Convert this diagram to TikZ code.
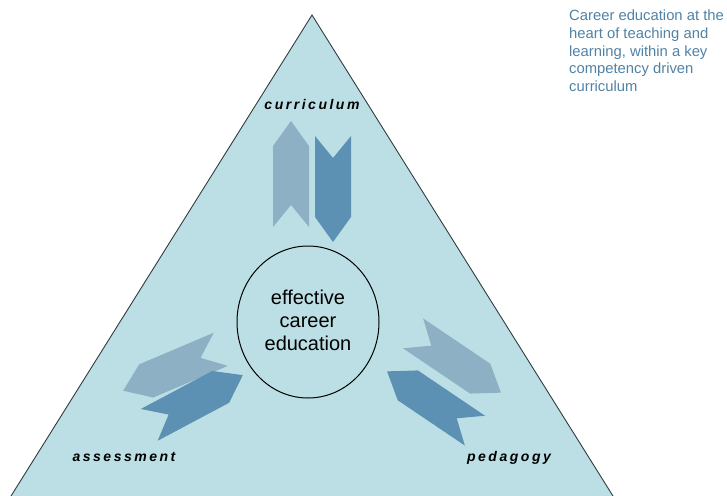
\documentclass[tikz,border=0pt]{standalone}
\usepackage{fontspec}
\setmainfont{Liberation Sans}
\newfontfamily\lblfont[LetterSpace=18]{Liberation Sans}
\definecolor{trifill}{RGB}{187,223,228}
\definecolor{chevlight}{RGB}{141,176,196}
\definecolor{chevdark}{RGB}{92,145,180}
\definecolor{notetext}{RGB}{80,130,165}
\definecolor{edgegray}{RGB}{50,60,62}

% chevron arrow: centre x, centre y, direction (degrees, y downwards), colour
\newcommand\chevron[4]{%
  \fill[#4, shift={(#1,#2)}, rotate={-1*(#3)}]
    (53,0) -- (28,18) -- (-53,18) -- (-31,0) -- (-53,-18) -- (28,-18) -- cycle;}

\begin{document}
\begin{tikzpicture}[x=1pt,y=-1pt,
  lbl/.style={font=\lblfont\bfseries\itshape\fontsize{14}{16}\selectfont, inner sep=0pt},
  coretext/.style={font=\fontsize{20}{23}\selectfont, align=center, inner sep=0pt},
  notestyle/.style={font=\fontsize{14.8}{17.6}\selectfont, text=notetext, align=left, inner sep=0pt}]
\useasboundingbox (0,0) rectangle (727,495);
\clip (0,0) rectangle (727,495);

% the triangle
\coordinate (apex) at (312,15);
\coordinate (bl) at (-4,520);
\coordinate (br) at (628,520);
\filldraw[fill=trifill, draw=edgegray, line width=0.9pt] (bl) -- (apex) -- (br) -- cycle;

% curriculum pair
\chevron{291}{174}{-90}{chevlight}
\chevron{333}{189}{90}{chevdark}
% pedagogy pair
\chevron{457}{363}{34}{chevlight}
\chevron{431}{401}{214}{chevdark}
% assessment pair
\chevron{172}{370}{157}{chevlight}
\chevron{196}{400}{-28}{chevdark}

% centre
\coordinate (c) at (308,322);
\draw[black, line width=1pt] (c) ellipse [x radius=71, y radius=76];
\node[coretext] (core) at (308,320) {effective\\career\\education};

% corner labels
\node[lbl] (curr) at (312,104) {curriculum};
\node[lbl] (assess) at (124,457) {assessment};
\node[lbl] (peda) at (509,458) {pedagogy};

% note
\node[notestyle, anchor=north west] (note) at (569,10)
  {Career education at the\\heart of teaching and\\learning, within a key\\competency driven\\curriculum};
\end{tikzpicture}
\end{document}
